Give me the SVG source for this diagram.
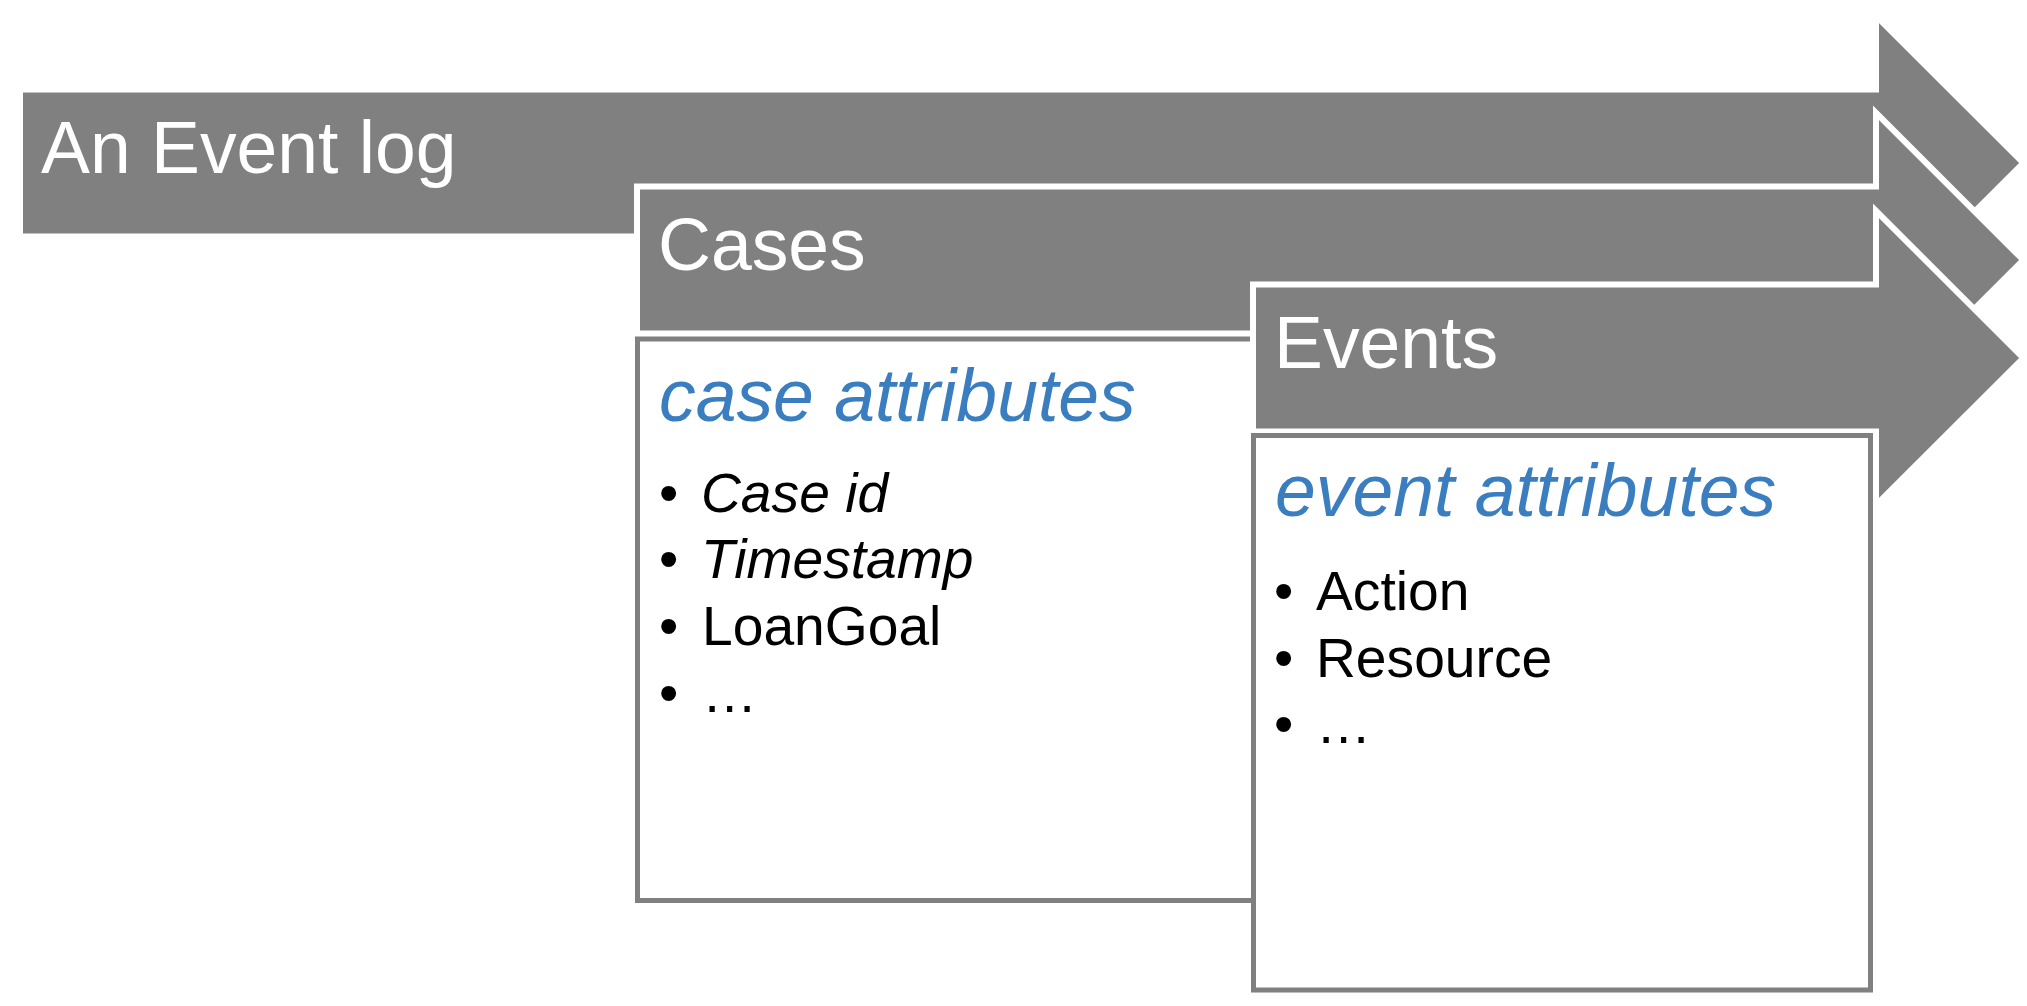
<svg xmlns="http://www.w3.org/2000/svg" width="2027" height="1006" viewBox="0 0 2027 1006">
<style>
.arrow{fill:#808080;stroke:#ffffff;stroke-width:6;stroke-linejoin:miter;stroke-miterlimit:10}
.box{fill:#ffffff;stroke:#808080;stroke-width:5}
.head{font-family:"Liberation Sans",Arial,sans-serif;font-size:73.3px;fill:#ffffff}
.title{font-family:"Liberation Sans",Arial,sans-serif;font-size:73.3px;font-style:italic;fill:#3a7ebf}
.item{font-family:"Liberation Sans",Arial,sans-serif;font-size:55.2px;fill:#000000}
.it{font-style:italic}
</style>
<rect width="2027" height="1006" fill="#ffffff"/>
<g id="arrow-eventlog">
<path class="arrow" d="M20,89.5 H1876 V15.8 L2023.2,163 L1876,310.2 V236.5 H20 Z"/>
<text class="head" x="41" y="172.5">An Event log</text>
</g>
<g id="arrow-cases">
<path class="arrow" d="M637,186.5 H1876 V112.8 L2023.2,260 L1876,407.2 V333.5 H637 Z"/>
<text class="head" x="658" y="270">Cases</text>
</g>
<g id="box-case-attributes">
<rect class="box" x="637.5" y="339" width="616" height="561.5"/>
<text class="title" x="659" y="421">case attributes</text>
<text class="item" x="659" y="511.5">•</text><text class="item it" x="701" y="511.5">Case id</text>
<text class="item" x="659" y="578">•</text><text class="item it" x="701" y="578">Timestamp</text>
<text class="item" x="659" y="645">•</text><text class="item" x="702" y="645">LoanGoal</text>
<text class="item" x="659" y="711.5">•</text><text class="item" x="702" y="711.5">…</text>
</g>
<g id="arrow-events">
<path class="arrow" d="M1253,284.5 H1876 V210.8 L2023.2,358 L1876,505.2 V431.5 H1253 Z"/>
<text class="head" x="1274" y="367.5">Events</text>
</g>
<g id="box-event-attributes">
<rect class="box" x="1253.5" y="435.5" width="617" height="554.5"/>
<text class="title" x="1275" y="516">event attributes</text>
<text class="item" x="1274" y="610">•</text><text class="item" x="1316" y="610">Action</text>
<text class="item" x="1274" y="676.5">•</text><text class="item" x="1316" y="676.5">Resource</text>
<text class="item" x="1274" y="743">•</text><text class="item" x="1316" y="743">…</text>
</g>
<g id="connectors"></g>
</svg>
